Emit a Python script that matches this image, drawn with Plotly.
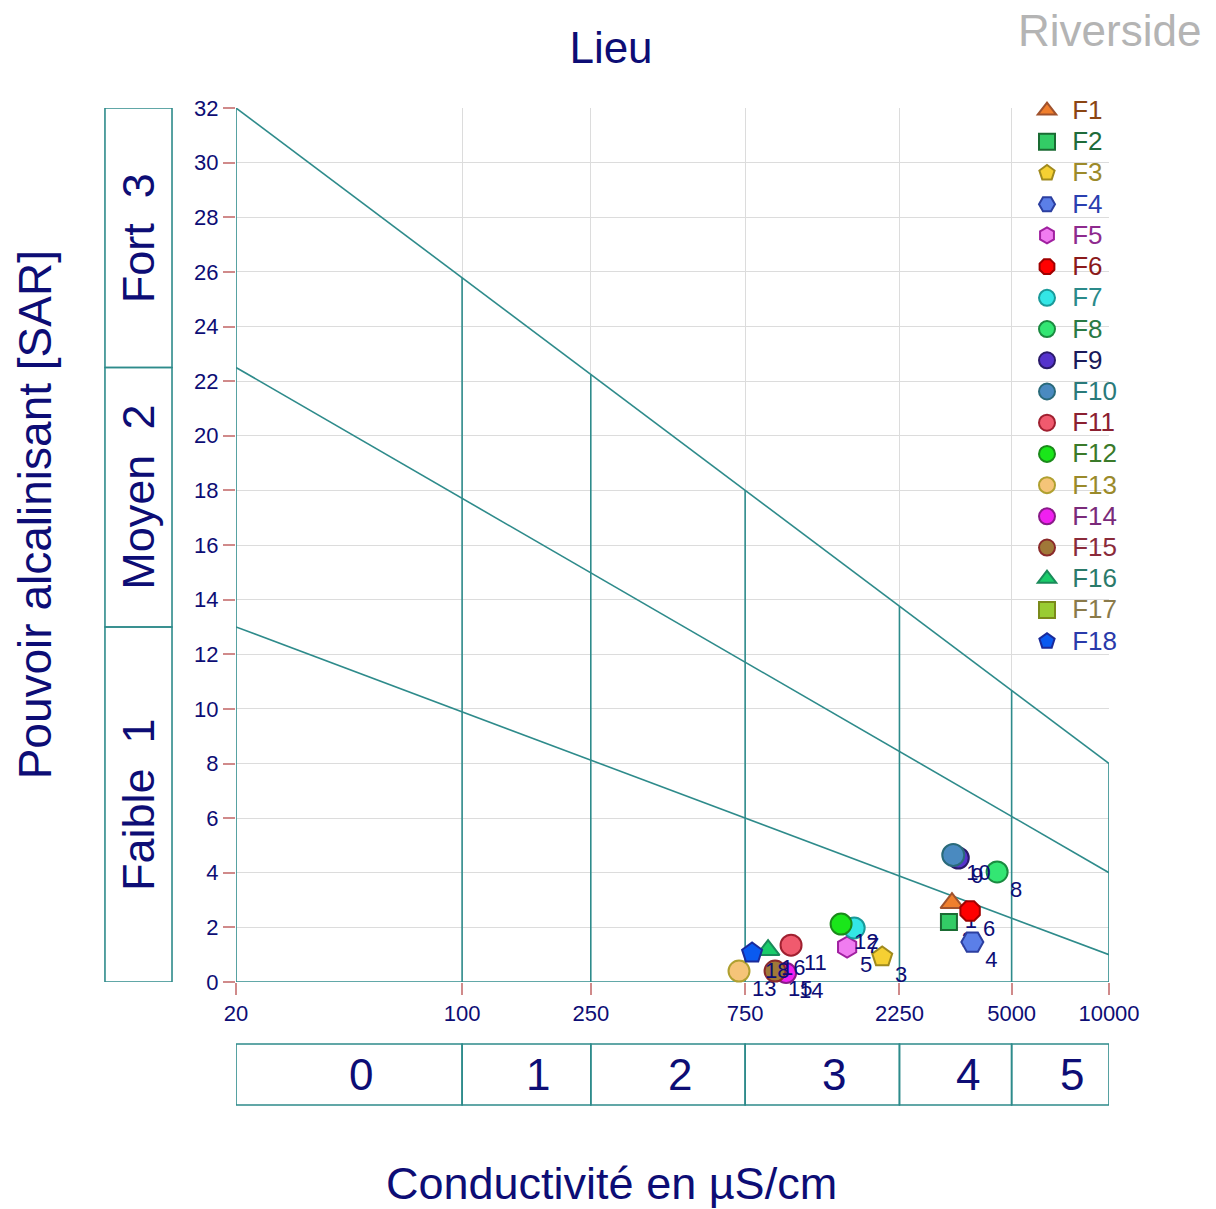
import math
import plotly.graph_objects as go

# Samples: conductivity (µS/cm) and sodium adsorption ratio
names = ["F1", "F2", "F3", "F4", "F5", "F6", "F7", "F8", "F9", "F10",
         "F11", "F12", "F13", "F14", "F15", "F16", "F17", "F18"]
point_labels = ["1", "2", "3", "4", "5", "6", "7", "8", "9", "10",
                "11", "12", "13", "14", "15", "16", "17", "18"]
conductivity = [3270, 3200, 1990, 3780, 1550, 3720, 1630, 4510, 3420, 3300,
                1040, 1485, 718, 1004, 928, 883, None, 788]
sar = [2.89, 2.20, 0.92, 1.46, 1.28, 2.60, 1.98, 4.03, 4.54, 4.65,
       1.35, 2.12, 0.40, 0.33, 0.40, 1.17, None, 1.06]

symbols = ["triangle-up", "square", "pentagon", "hexagon2", "hexagon", "octagon",
           "circle", "circle", "circle", "circle", "circle", "circle", "circle",
           "circle", "circle", "triangle-up", "square", "pentagon"]
sizes = [20, 16, 21, 22, 21, 21, 21, 21, 21, 22, 21, 21, 21, 20, 21, 20, 16, 21]
fills = ["#f07f2d", "#33cc66", "#f5d033", "#5b7fe8", "#f07cf0", "#ff0000",
         "#33e6e6", "#33e673", "#5533cc", "#4a8ac0", "#f05a6e", "#1ae61a",
         "#f5c478", "#f020f0", "#a07838", "#1acc6a", "#99cc33", "#0a5af0"]
edges = ["#a0522d", "#1a6b33", "#a08a1e", "#2c3fa0", "#a020a0", "#a00000",
         "#1a9a9a", "#1a8a40", "#2a1a6a", "#2a6a7a", "#a02030", "#1a8a1a",
         "#b0a030", "#8a1a8a", "#8a2a2a", "#1a8a5a", "#7a8a1a", "#1a2a9a"]
legend_colors = ["#8b4513", "#1e6b3a", "#9c8a2a", "#2a3fb0", "#8e2a8e", "#8b1a1a",
                 "#2a8a8a", "#2a7a45", "#1a1a5a", "#2a7a7a", "#8b2030", "#3a7a2a",
                 "#9a8a2a", "#7a2a7a", "#8a2a3a", "#2a7a6a", "#8a7a4a", "#2a3aaa"]

# Conductivity class limits and SAR boundary lines (value at 20 and at 10000 µS/cm)
ec_limits = [20, 100, 250, 750, 2250, 5000, 10000]
ec_ticks = ["20", "100", "250", "750", "2250", "5000", "10000"]
ec_classes = ["0", "1", "2", "3", "4", "5"]
sar_lines = [[32, 8], [22.5, 4], [13, 1]]
sar_classes = ["Faible  1", "Moyen  2", "Fort  3"]
sar_ticks = list(range(0, 33, 2))

TEAL = "#2e8b8b"
NAVY = "#0d0d75"
FONT = "Arial, Liberation Sans, sans-serif"

fig = go.Figure()


def top_line(x):
    a, b = sar_lines[0]
    t = (math.log10(x) - math.log10(ec_limits[0])) / (math.log10(ec_limits[-1]) - math.log10(ec_limits[0]))
    return a + (b - a) * t


# SAR boundary lines
for a, b in sar_lines:
    fig.add_trace(go.Scatter(x=[ec_limits[0], ec_limits[-1]], y=[a, b], mode="lines",
                             line=dict(color=TEAL, width=1.6), showlegend=False,
                             hoverinfo="skip"))
# Conductivity class verticals, up to the upper boundary line
for v in ec_limits:
    fig.add_trace(go.Scatter(x=[v, v], y=[0, top_line(v)], mode="lines",
                             line=dict(color=TEAL, width=1.6), showlegend=False,
                             hoverinfo="skip"))
fig.add_trace(go.Scatter(x=[ec_limits[0], ec_limits[-1]], y=[0, 0], mode="lines",
                         line=dict(color=TEAL, width=1.6), showlegend=False,
                         hoverinfo="skip"))

# Samples: marker, then its number label (later samples overlap earlier labels)
for i in range(len(names)):
    fig.add_trace(go.Scatter(
        x=[conductivity[i]], y=[sar[i]], mode="markers",
        marker=dict(symbol=symbols[i], size=sizes[i], color=fills[i],
                    line=dict(color=edges[i], width=2)),
        name=f"<span style='color:{legend_colors[i]};font-size:26px'>\u2009{names[i]}</span>",
        cliponaxis=False,
    ))
    fig.add_trace(go.Scatter(
        x=[conductivity[i]], y=[sar[i]], mode="markers+text",
        text=["\u2009" + point_labels[i]], textposition="bottom right",
        textfont=dict(family=FONT, size=22, color=NAVY),
        marker=dict(size=12, color="rgba(0,0,0,0)", line=dict(width=0)),
        showlegend=False, hoverinfo="skip", cliponaxis=False,
    ))

shapes = []
annotations = []

# SAR class boxes on the left
box_x0, box_x1 = -0.1501, -0.0733
sar_bounds = [0, sar_lines[2][0], sar_lines[1][0], sar_lines[0][0]]
for k in range(3):
    shapes.append(dict(type="rect", xref="paper", yref="y", x0=box_x0, x1=box_x1,
                       y0=sar_bounds[k], y1=sar_bounds[k + 1],
                       line=dict(color=TEAL, width=1.6)))
    annotations.append(dict(xref="paper", yref="y", x=(box_x0 + box_x1) / 2,
                            y=(sar_bounds[k] + sar_bounds[k + 1]) / 2,
                            xanchor="center", yanchor="middle",
                            text=sar_classes[k], textangle=-90, showarrow=False,
                            font=dict(family=FONT, size=45, color=NAVY)))

# Conductivity class boxes underneath
box_y0, box_y1 = -0.1407, -0.0709
for k in range(len(ec_classes)):
    shapes.append(dict(type="rect", xref="x", yref="paper",
                       x0=ec_limits[k], x1=ec_limits[k + 1], y0=box_y0, y1=box_y1,
                       line=dict(color=TEAL, width=1.6)))
    mid = (math.log10(ec_limits[k]) + math.log10(ec_limits[k + 1])) / 2
    annotations.append(dict(xref="x", yref="paper", x=mid, y=(box_y0 + box_y1) / 2,
                            xanchor="center", yanchor="middle",
                            xshift=12, text=ec_classes[k], showarrow=False,
                            font=dict(family=FONT, size=44, color=NAVY)))

annotations += [
    dict(xref="paper", yref="paper", x=-0.2302, y=0.534, xanchor="center", yanchor="middle",
         text="Pouvoir alcalinisant [SAR]", textangle=-90, showarrow=False,
         font=dict(family=FONT, size=46, color=NAVY)),
    dict(xref="paper", yref="paper", x=0.4296, y=-0.23, xanchor="center", yanchor="middle",
         text="Conductivité en µS/cm", showarrow=False,
         font=dict(family=FONT, size=45, color=NAVY)),
    dict(xref="paper", yref="paper", x=1.1077, y=1.0892, xanchor="right", yanchor="middle",
         text="Riverside", showarrow=False, font=dict(family=FONT, size=44, color="#b4b4b4")),
]

fig.update_layout(
    width=1216, height=1209,
    margin=dict(l=236, r=107, t=108, b=227, autoexpand=False),
    paper_bgcolor="white", plot_bgcolor="white",
    title=dict(text="Lieu", x=611 / 1216, xref="container", y=1 - 48 / 1209, yref="container",
               yanchor="middle", xanchor="center",
               font=dict(family=FONT, size=44, color=NAVY)),
    shapes=shapes, annotations=annotations,
    legend=dict(xref="container", yref="container", x=1027 / 1216, y=1 - 90 / 1209,
                xanchor="left", yanchor="top", bgcolor="rgba(0,0,0,0)",
                font=dict(family=FONT, size=21.7), itemsizing="trace", tracegroupgap=0),
    xaxis=dict(type="log", range=[math.log10(ec_limits[0]), math.log10(ec_limits[-1])],
               tickvals=ec_limits, ticktext=ec_ticks, showgrid=True, gridcolor="#dcdcdc",
               ticks="outside", ticklen=12, tickcolor="#d08a8a", tickwidth=1.5,
               tickfont=dict(family=FONT, size=22, color=NAVY), zeroline=False,
               showline=False),
    yaxis=dict(range=[0, 32], tickvals=sar_ticks, showgrid=True, gridcolor="#dcdcdc",
               ticks="outside", ticklen=12, tickcolor="#d08a8a", tickwidth=1.5,
               tickfont=dict(family=FONT, size=22, color=NAVY), zeroline=False,
               showline=False),
)

fig.write_html("out.html")
